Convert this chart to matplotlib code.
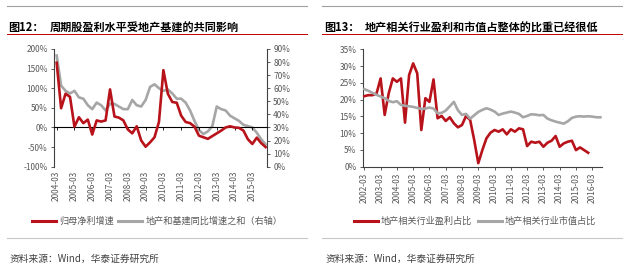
import matplotlib
matplotlib.use("Agg")
import matplotlib.pyplot as plt
import matplotlib.lines as mlines
from matplotlib.ticker import FuncFormatter, MultipleLocator

plt.rcParams['font.family'] = ['Noto Sans CJK SC', 'DejaVu Sans']
plt.rcParams['axes.unicode_minus'] = False

# ---------------- data: chart 12 (quarterly 2004-03 .. 2015-12) ----------------
left_quarters = [f"{y}-{m:02d}" for y in range(2004, 2016) for m in (3, 6, 9, 12)]
profit_growth = [165, 49, 86, 78, 2, 26, 11, 20, -18, 18, 15, 18,
                 97, 28, 25, 18, -5, -15, 3, -33, -49, -38, -25, 14,
                 146, 86, 65, 63, 30, 14, 11, 2, -21, -25, -29, -22,
                 -15, -8, 0, 3, 0, -1, -8, -30, -42, -26, -40, -50]
infra_growth = [85, 62, 58, 56, 58, 53, 52, 47, 44, 49, 47, 43,
                48, 48, 46, 44, 44, 51, 47, 46, 51, 61, 63, 60,
                58, 59, 56, 52, 52, 49, 43, 35, 28, 25, 27, 31,
                46, 44, 43, 39, 37, 35, 32, 31, 30, 26, 21, 17]
left_tick_labels = [f"{y}-03" for y in range(2004, 2016)]

# ---------------- data: chart 13 (quarterly 2002-03 .. 2016-09) ----------------
right_quarters = [f"{y}-{m:02d}" for y in range(2002, 2017) for m in (3, 6, 9, 12)][:59]
re_profit_share = [21.0, 21.3, 21.3, 21.8, 26.3, 15.4, 21.9, 26.3, 25.3, 26.3, 13.1, 27.3,
                   30.8, 27.8, 10.9, 20.4, 19.3, 26.0, 14.4, 15.1, 13.6, 14.7, 12.9, 11.7,
                   12.4, 15.1, 13.9, 7.9, 1.0, 4.9, 8.4, 10.1, 10.9, 10.4, 11.1, 9.6,
                   11.1, 10.4, 11.4, 11.1, 6.1, 7.4, 7.1, 7.4, 5.9, 7.1, 7.7, 9.1,
                   5.9, 6.9, 7.4, 7.7, 4.9, 5.7, 4.9, 4.1]
re_mktcap_share = [23.1, 22.6, 22.0, 21.4, 20.9, 20.4, 19.6, 19.2, 19.5, 18.4, 18.1, 18.0,
                   17.8, 17.5, 17.2, 17.3, 17.6, 17.3, 15.9, 16.0, 16.7, 18.0, 19.3, 16.8,
                   15.4, 15.7, 14.3, 15.3, 16.3, 16.9, 17.4, 17.0, 16.4, 15.4, 15.8, 16.1,
                   16.4, 16.1, 15.7, 14.7, 15.1, 15.6, 15.5, 15.3, 15.4, 14.3, 13.8, 13.4,
                   13.1, 12.8, 13.5, 14.5, 14.9, 15.0, 14.9, 15.0, 14.9, 14.7, 14.7]
right_tick_labels = [f"{y}-03" for y in range(2002, 2017)]

RED = '#B8121B'
GRAY = '#A6A6A6'
TXT = '#595959'
AXC = '#404040'
TICK_FS = 6

fig = plt.figure(figsize=(6.25, 2.68), dpi=100)
W, H = 625.0, 268.0

def fx(px):
    return px / W

def fy(py):
    return 1 - py / H

pct = FuncFormatter(lambda v, p: f"{v:.0f}%")

# ================= left chart =================
ax1 = fig.add_axes([fx(54), fy(166.7), fx(267) - fx(54), fy(49) - fy(166.7)])
ax1r = ax1.twinx()
xl = list(range(len(left_quarters)))
ax1.plot(xl, profit_growth, color=RED, lw=1.9, solid_joinstyle='round', zorder=3)
ax1r.plot(xl, infra_growth, color=GRAY, lw=1.9, solid_joinstyle='round', zorder=3)
ax1.set_zorder(ax1r.get_zorder() + 1)
ax1.patch.set_visible(False)

ax1.set_xlim(-0.6, 47.3)
ax1.set_ylim(-100, 200)
ax1.yaxis.set_major_locator(MultipleLocator(50))
ax1.yaxis.set_major_formatter(pct)
ax1r.set_ylim(0, 90)
ax1r.yaxis.set_major_locator(MultipleLocator(10))
ax1r.yaxis.set_major_formatter(pct)

for s in ['top', 'right']:
    ax1.spines[s].set_visible(False)
for s in ['top', 'left', 'bottom']:
    ax1r.spines[s].set_visible(False)
ax1.spines['left'].set_color(AXC)
ax1.spines['left'].set_linewidth(0.8)
ax1r.spines['right'].set_color(AXC)
ax1r.spines['right'].set_linewidth(0.8)
ax1.spines['bottom'].set_position(('data', 0))
ax1.spines['bottom'].set_color('black')
ax1.spines['bottom'].set_linewidth(0.8)

ltick_pos = [left_quarters.index(l) for l in left_tick_labels]
ax1.set_xticks(ltick_pos)
ax1.tick_params(axis='x', labelbottom=False, length=2, width=0.6, color='black', direction='out')
ax1.tick_params(axis='y', labelsize=TICK_FS, labelcolor=TXT, length=2.5, width=0.6, color=AXC, pad=2)
ax1r.tick_params(axis='y', labelsize=TICK_FS, labelcolor=TXT, length=2.5, width=0.6, color=AXC, pad=2)

sec = ax1.secondary_xaxis('bottom')
sec.set_xticks(ltick_pos, left_tick_labels)
sec.tick_params(length=0, labelsize=TICK_FS, labelcolor=TXT, labelrotation=90, pad=3)
sec.spines['bottom'].set_visible(False)

h1 = mlines.Line2D([], [], color=RED, lw=2.2)
h2 = mlines.Line2D([], [], color=GRAY, lw=2.2)
leg1 = fig.legend([h1, h2], ['归母净利增速', '地产和基建同比增速之和（右轴）'],
                  loc='center', bbox_to_anchor=(fx(157), fy(221.5)), ncol=2, frameon=False,
                  fontsize=6.6, handlelength=2.6, handletextpad=0.35, columnspacing=0.5,
                  labelcolor=TXT, borderpad=0, borderaxespad=0)

# ================= right chart =================
ax2 = fig.add_axes([fx(362.7), fy(166.5), fx(602) - fx(362.7), fy(49.3) - fy(166.5)])
xr = list(range(len(right_quarters)))
ax2.plot(xr[:len(re_profit_share)], re_profit_share, color=RED, lw=1.9, solid_joinstyle='round', zorder=3)
ax2.plot(xr, re_mktcap_share, color=GRAY, lw=1.9, solid_joinstyle='round', zorder=4)
ax2.set_xlim(-0.4, 58.4)
ax2.set_ylim(0, 35)
ax2.yaxis.set_major_locator(MultipleLocator(5))
ax2.yaxis.set_major_formatter(pct)
for s in ['top', 'right']:
    ax2.spines[s].set_visible(False)
for s in ['left', 'bottom']:
    ax2.spines[s].set_color(AXC)
    ax2.spines[s].set_linewidth(0.8)
rtick_pos = [right_quarters.index(l) for l in right_tick_labels]
ax2.set_xticks(rtick_pos, right_tick_labels)
ax2.tick_params(axis='x', labelsize=TICK_FS, labelcolor=TXT, labelrotation=90, length=2.5,
                width=0.6, color=AXC, pad=2)
ax2.tick_params(axis='y', labelsize=TICK_FS, labelcolor=TXT, length=2.5, width=0.6, color=AXC, pad=2)

leg2 = fig.legend([h1, h2], ['地产相关行业盈利占比', '地产相关行业市值占比'],
                  loc='center', bbox_to_anchor=(fx(475), fy(221.5)), ncol=2, frameon=False,
                  fontsize=6.6, handlelength=2.6, handletextpad=0.35, columnspacing=0.6,
                  labelcolor=TXT, borderpad=0, borderaxespad=0)

# ================= frame decorations & titles =================
for x0, x1 in [(7, 307), (322, 622)]:
    fig.add_artist(mlines.Line2D([fx(x0), fx(x1)], [fy(6), fy(6)], color='#A0A0A0', lw=0.8))
    fig.add_artist(mlines.Line2D([fx(x0), fx(x1)], [fy(34.3), fy(34.3)], color='#C00000', lw=0.7))
    fig.add_artist(mlines.Line2D([fx(x0), fx(x1)], [fy(238.3), fy(238.3)], color='#C8C8C8', lw=0.8))

fig.text(fx(8), fy(28), '图12：', fontsize=8, fontweight='bold', color='black', va='center', ha='left')
fig.text(fx(50), fy(28), '周期股盈利水平受地产基建的共同影响', fontsize=8, fontweight='bold',
         color='black', va='center', ha='left')
fig.text(fx(324), fy(28), '图13：', fontsize=8, fontweight='bold', color='black', va='center', ha='left')
fig.text(fx(365), fy(28), '地产相关行业盈利和市值占整体的比重已经很低', fontsize=8, fontweight='bold',
         color='black', va='center', ha='left')

fig.text(fx(10), fy(259), '资料来源：Wind，华泰证券研究所', fontsize=7, color='#404040',
         va='center', ha='left', style='italic')
fig.text(fx(326), fy(259), '资料来源：Wind，华泰证券研究所', fontsize=7, color='#404040',
         va='center', ha='left', style='italic')

fig.savefig('out.png', dpi=100)
